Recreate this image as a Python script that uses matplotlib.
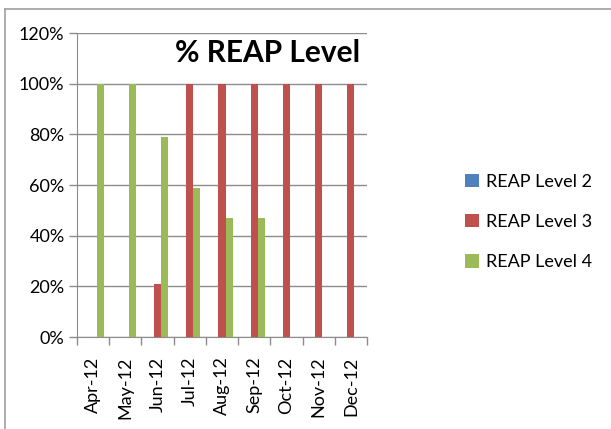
import numpy as np
import matplotlib.pyplot as plt
from matplotlib.ticker import FuncFormatter

months = ["Apr-12", "May-12", "Jun-12", "Jul-12", "Aug-12", "Sep-12", "Oct-12", "Nov-12", "Dec-12"]
level2 = [0, 0, 0, 0, 0, 0, 0, 0, 0]
level3 = [0, 0, 21, 100, 100, 100, 100, 100, 100]
level4 = [100, 100, 79, 59, 47, 47, 0, 0, 0]

plt.rcParams["font.family"] = ["Lato", "DejaVu Sans"]

fig = plt.figure(figsize=(6.11, 4.29), dpi=100)
ax = fig.add_axes([77 / 611, 1 - 337 / 429, 290 / 611, 304 / 429])

# Chart border (only top and left edges are visible in the cropped original)
top_y = 1 - 8.5 / 429
left_x = 4.5 / 611
fig.add_artist(plt.Line2D([left_x, 1], [top_y, top_y], transform=fig.transFigure,
                          color="#a0a0a0", linewidth=1.2))
fig.add_artist(plt.Line2D([left_x, left_x], [0, top_y], transform=fig.transFigure,
                          color="#a0a0a0", linewidth=1.2))

x = np.arange(len(months))
w = 0.22
ax.bar(x - w, level2, w, color="#4f81bd", label="REAP Level 2", zorder=3)
ax.bar(x, level3, w, color="#c0504d", label="REAP Level 3", zorder=3)
ax.bar(x + w, level4, w, color="#9bbb59", label="REAP Level 4", zorder=3)

ax.set_xlim(-0.5, len(months) - 0.5)
ax.set_ylim(0, 120)
ax.set_yticks(range(0, 121, 20))
ax.yaxis.set_major_formatter(FuncFormatter(lambda v, p: f"{int(v)}%"))
ax.grid(axis="y", color="#8c8c8c", linewidth=1, zorder=0)

ax.set_xticks(x)
ax.set_xticklabels(months, rotation=90)
ax.set_xticks(np.arange(-0.5, len(months)), minor=True)
ax.tick_params(axis="x", which="major", length=0, pad=14, labelsize=13)
ax.tick_params(axis="x", which="minor", length=6, color="#8c8c8c", width=1)
ax.tick_params(axis="y", length=6, color="#8c8c8c", width=1, labelsize=13, pad=3)

for s in ["top", "right"]:
    ax.spines[s].set_visible(False)
ax.spines["left"].set_color("#8c8c8c")
ax.spines["bottom"].set_color("#8c8c8c")

ax.text(0.975, 0.98, "% REAP Level", transform=ax.transAxes, ha="right", va="top",
        fontsize=21.5, fontweight="bold")

fig.legend(loc="center left", bbox_to_anchor=(449 / 611, 1 - 222 / 429), frameon=False,
           fontsize=13, handlelength=0.75, handleheight=0.75, handletextpad=0.4,
           labelspacing=1.35)

fig.savefig("out.png", dpi=100)
